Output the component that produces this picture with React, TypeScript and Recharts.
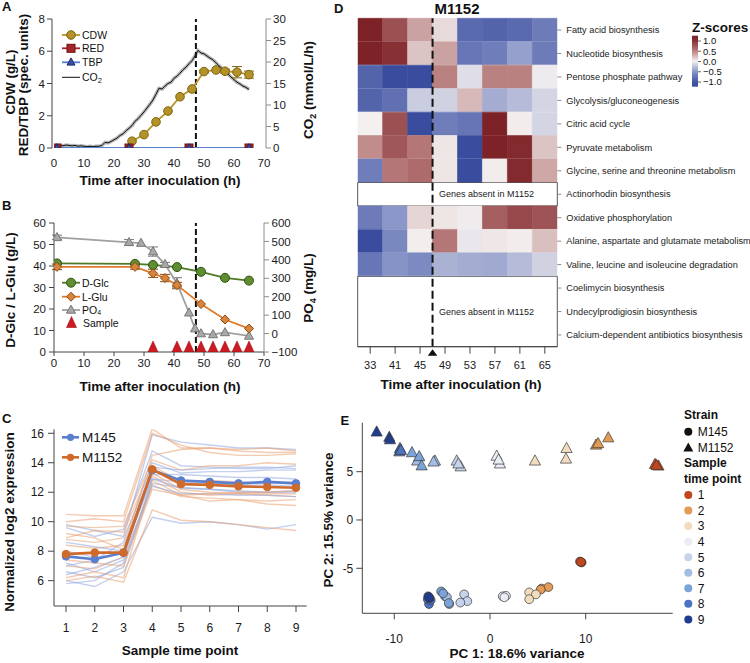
import React from 'react';
import {
  ComposedChart, LineChart, BarChart, ScatterChart, Line, Bar, Scatter, Cell,
  XAxis, YAxis, ErrorBar, ReferenceLine, ReferenceArea,
} from 'recharts';

const FONT = '"Liberation Sans", Arial, Helvetica, sans-serif';
const AXIS = '#444';
const AXIS_LIGHT = '#8c8c8c';

// ---------- A: biomass, pigments and CO2
const cdwHours = [26, 30, 34, 38, 42, 46, 50, 54, 57, 61, 65];
const cdwValues = [0.42, 0.83, 1.62, 2.29, 3.18, 3.66, 4.74, 4.84, 4.76, 4.7, 4.55];
const cdwErrors = [0, 0, 0, 0, 0, 0, 0.08, 0, 0.12, 0.35, 0.22];
const pigmentHours = [1, 25, 45, 65];
const redValues = [0, 0, 0, 0];
const tbpValues = [0, 0, 0, 0];
const co2Hours = [
  0, 1, 2, 3, 4, 5, 6, 7, 8, 9, 10, 11, 12, 13, 14, 15, 16, 17, 18, 19, 20, 21,
  22, 23, 24, 25, 26, 27, 28, 29, 30, 31, 32, 33, 34, 35, 36, 37, 38, 39, 40, 41, 42, 43,
  44, 45, 46, 47, 48, 49, 50, 51, 52, 53, 54, 55, 56, 57, 58, 59, 60, 61, 62, 63, 64, 65,
];
const co2Values = [
  0.2, 0.4, 0.6, 0.5, 0.7, 0.6, 0.5, 0.6, 0.4, 0.5, 0.4, 0.3, 0.4, 0.3, 0.4, 0.4, 0.6, 1.3, 1.2, 1.5, 1.9, 2.3,
  2.9, 3.3, 4.0, 4.6, 5.2, 6.2, 6.8, 7.6, 8.4, 9.3, 10.2, 11.2, 12.5, 13.9, 13.7, 14.4, 15.0, 15.3, 16.2, 16.7, 17.4, 18.2,
  18.8, 19.6, 20.3, 21.4, 22.7, 22.1, 21.9, 21.4, 20.9, 20.5, 19.8, 19.1, 18.5, 17.8, 17.2, 16.5, 15.9, 15.3, 14.9, 14.4, 14.1, 13.6,
];
const switchHour = 47.3;
const hourTicks = [0, 10, 20, 30, 40, 50, 60, 70];

// ---------- B: substrates
const glcHours = [1, 27, 33, 41, 49, 57, 65];
const glcValues = [41.2, 41.0, 40.5, 39.5, 37.3, 34.5, 33.2];
const gluHours = [1, 27, 33, 37, 41, 49, 57, 65];
const gluValues = [39.6, 39.6, 36.6, 34.4, 31.1, 22.3, 15.1, 10.9];
const gluErrors = [1.3, 1.1, 1.9, 1.7, 1.3, 0, 0, 0];
const po4Hours = [1, 25, 29, 33, 37, 41, 45, 47, 49, 53, 57, 65];
const po4Values = [522, 495, 491, 445, 376, 273, 113, 27, 0, -5, 6, -13];
const po4Errors = [12, 15, 0, 25, 10, 30, 0, 0, 0, 0, 0, 0];
const sampleHours = [33, 41, 45, 49, 53, 57, 61, 65];
const sampleMarks = [0, 0, 0, 0, 0, 0, 0, 0];

// ---------- C: gene expression profiles
const timePoints = [1, 2, 3, 4, 5, 6, 7, 8, 9];
const m145Mean = [7.65, 7.45, 7.9, 13.5, 12.8, 12.7, 12.6, 12.7, 12.6];
const m1152Mean = [7.8, 7.9, 7.9, 13.55, 12.55, 12.5, 12.4, 12.35, 12.3];
const m145Genes = [
  [9.8, 9.4, 9.0, 15.9, 15.4, 15.2, 15.0, 15.0, 14.9],
  [9.6, 9.0, 9.5, 14.8, 13.8, 13.7, 13.6, 13.6, 13.8],
  [8.0, 7.6, 7.8, 13.2, 13.2, 13.1, 13.0, 13.0, 12.9],
  [7.2, 6.6, 7.4, 12.6, 12.3, 12.2, 12.1, 12.0, 12.0],
  [6.6, 6.2, 6.9, 12.9, 12.7, 12.6, 12.5, 12.5, 12.4],
  [6.0, 5.6, 6.6, 10.3, 9.9, 10.0, 9.8, 9.5, 9.8],
  [5.8, 6.0, 7.2, 12.4, 11.9, 11.9, 11.8, 11.8, 11.7],
  [7.0, 7.4, 8.6, 14.0, 13.3, 13.4, 13.4, 13.5, 13.5],
  [8.6, 8.3, 8.0, 12.9, 12.3, 12.2, 12.0, 12.0, 12.1],
  [6.4, 6.9, 7.6, 13.7, 13.5, 13.6, 13.7, 13.7, 13.6],
];
const m1152Genes = [
  [10.5, 10.4, 10.4, 16.3, 15.0, 15.0, 14.8, 14.7, 14.7],
  [10.0, 10.2, 10.0, 16.0, 15.2, 14.7, 14.5, 14.5, 14.6],
  [9.7, 9.6, 9.7, 14.2, 13.5, 13.8, 13.8, 14.0, 13.9],
  [8.9, 9.4, 9.3, 13.8, 12.7, 12.8, 12.7, 12.6, 12.7],
  [8.4, 8.2, 8.4, 13.1, 12.0, 11.8, 11.9, 11.8, 11.7],
  [7.0, 6.8, 7.6, 12.5, 11.7, 11.6, 11.5, 11.4, 11.5],
  [6.2, 6.6, 6.2, 12.8, 11.8, 11.4, 11.5, 11.2, 11.1],
  [6.0, 6.3, 5.9, 10.8, 10.1, 10.0, 9.8, 9.6, 9.4],
  [8.8, 8.6, 8.9, 13.3, 12.2, 12.0, 11.9, 11.9, 11.9],
  [7.4, 7.2, 7.0, 12.2, 11.8, 11.9, 12.0, 12.0, 12.1],
  [9.2, 8.9, 8.1, 14.5, 14.9, 15.0, 14.9, 15.0, 14.8],
];

// ---------- D: pathway z-scores (M1152)
const pathways = [
  'Fatty acid biosynthesis',
  'Nucleotide biosynthesis',
  'Pentose phosphate pathway',
  'Glycolysis/gluconeogenesis',
  'Citric acid cycle',
  'Pyruvate metabolism',
  'Glycine, serine and threonine metabolism',
  'Actinorhodin biosynthesis',
  'Oxidative phosphorylation',
  'Alanine, aspartate and glutamate metabolism',
  'Valine, leucine and isoleucine degradation',
  'Coelimycin biosynthesis',
  'Undecylprodigiosin biosynthesis',
  'Calcium-dependent antibiotics biosynthesis',
];
const zScores: (number[] | null)[] = [
  [1.1, 0.8, 0.35, 0.1, -0.85, -0.9, -0.85, -0.7],
  [1.1, 1.0, 0.2, 0.35, -0.75, -0.68, -0.45, -0.7],
  [-0.9, -1.1, -1.1, 0.5, -0.1, 0.5, 0.5, -0.03],
  [-0.9, -0.8, -0.2, -0.17, 0.25, -0.38, -0.3, -0.15],
  [0.0, 0.8, -1.1, -0.68, -0.76, 1.1, 0.02, -0.15],
  [0.45, 0.75, 0.55, 0.05, -1.1, 1.1, 1.05, 0.2],
  [-0.68, 0.55, 0.62, 0.05, -1.1, 0.02, 1.05, 0.33],
  null,
  [-0.7, -0.5, 0.12, 0.05, -0.02, 0.7, 0.85, 0.78],
  [-1.1, -0.6, 0.01, 0.55, -0.05, 0.04, 0.02, 0.22],
  [-0.75, -0.52, -0.58, -0.35, -0.38, -0.4, -0.3, -0.17],
  null,
  null,
  null,
];
const zTicks = ['1.0', '0.5', '0.0', '\u22120.5', '\u22121.0'];

// ---------- E: PCA
const m145Points = [
  [9.58, -4.4, 1], [9.4, -4.3, 1], [9.5, -4.35, 1],
  [5.4, -7.1, 2], [6.1, -6.95, 2], [5.3, -7.2, 2],
  [4.1, -7.5, 3], [4.8, -7.7, 3], [4.1, -8.2, 3],
  [1.33, -7.9, 4], [1.67, -7.85, 4], [1.5, -8.0, 4],
  [-2.7, -7.7, 5], [-2.37, -8.4, 5], [-3.1, -8.55, 5],
  [-4.7, -7.9, 6], [-4.5, -8.0, 6], [-4.25, -8.7, 6],
  [-5.1, -7.4, 7], [-4.9, -7.6, 7], [-4.3, -8.6, 7],
  [-6.37, -8.7, 8], [-6.5, -8.2, 8], [-6.2, -8.3, 8],
  [-6.45, -7.9, 9], [-6.3, -8.1, 9], [-6.4, -8.0, 9],
];
const m1152Points = [
  [17.24, 5.75, 1], [17.6, 5.58, 1], [17.4, 5.65, 1],
  [11.08, 7.75, 2], [11.3, 7.9, 2], [12.36, 8.5, 2],
  [4.7, 6.1, 3], [8.0, 7.4, 3], [7.94, 6.3, 3],
  [0.7, 6.6, 4], [1.04, 5.8, 4], [0.9, 6.2, 4],
  [-3.48, 6.1, 5], [-3.06, 5.5, 5], [-3.3, 5.8, 5],
  [-7.6, 6.1, 6], [-5.75, 6.1, 6], [-5.9, 6.0, 6],
  [-8.15, 6.96, 7], [-7.39, 6.55, 7], [-7.14, 5.6, 7],
  [-9.4, 7.4, 8], [-9.48, 7.05, 8], [-9.3, 7.2, 8],
  [-11.84, 9.1, 9], [-10.52, 8.55, 9], [-10.45, 8.3, 9],
];
const timeColors = ['#c1461c', '#e39a55', '#f2dcc0', '#eaedf5', '#c6d3ea', '#a3bee2', '#7ba3d8', '#4b73c2', '#1f3c8f'];

// ---------- helpers
const toPoints = (hours: number[], values: number[], errors?: number[]) =>
  hours.map((t, i) => ({ t, v: values[i], e: errors ? errors[i] : 0 }));
const tick = (size: number) => ({ fontSize: size, fill: '#1a1a1a' });
const minus = (v: number) => String(v).replace('-', '\u2212');

const zStops: [number, number[]][] = [
  [-1.1, [58, 76, 157]],
  [-0.55, [128, 142, 196]],
  [0, [244, 240, 240]],
  [0.55, [180, 118, 118]],
  [1.1, [125, 34, 38]],
];
function zColor(z: number) {
  const v = Math.max(-1.1, Math.min(1.1, z));
  let k = 0;
  while (k < zStops.length - 2 && v > zStops[k + 1][0]) k++;
  const [a, ca] = zStops[k];
  const [b, cb] = zStops[k + 1];
  const f = (v - a) / (b - a);
  const c = ca.map((x, i) => Math.round(x + (cb[i] - x) * f));
  return `rgb(${c[0]},${c[1]},${c[2]})`;
}

const circleDot = (fill: string, stroke: string, r: number) => (p: any) =>
  p.cx == null ? <g key={`n${p.index}`} /> :
    <circle key={`c${p.index}`} cx={p.cx} cy={p.cy} r={r} fill={fill} stroke={stroke} strokeWidth={1} />;
const squareDot = (fill: string, stroke: string, s: number) => (p: any) =>
  p.cx == null ? <g key={`n${p.index}`} /> :
    <rect key={`s${p.index}`} x={p.cx - s / 2} y={p.cy - s / 2} width={s} height={s} fill={fill} stroke={stroke} strokeWidth={1} />;
const triDot = (fill: string, stroke: string, s: number) => (p: any) => {
  if (p.cx == null) return <g key={`n${p.index}`} />;
  const h = s * 0.9;
  return <polygon key={`t${p.index}`} points={`${p.cx},${p.cy - h * 0.6} ${p.cx - s / 2},${p.cy + h * 0.4} ${p.cx + s / 2},${p.cy + h * 0.4}`} fill={fill} stroke={stroke} strokeWidth={1} />;
};
const diamondDot = (fill: string, stroke: string, s: number) => (p: any) =>
  p.cx == null ? <g key={`n${p.index}`} /> :
    <polygon key={`d${p.index}`} points={`${p.cx},${p.cy - s / 2} ${p.cx + s / 2},${p.cy} ${p.cx},${p.cy + s / 2} ${p.cx - s / 2},${p.cy}`} fill={fill} stroke={stroke} strokeWidth={1} />;
const sampleDot = (p: any) =>
  p.cx == null ? <g key={`n${p.index}`} /> :
    <polygon key={`m${p.index}`} points={`${p.cx},${p.cy - 11} ${p.cx - 5},${p.cy} ${p.cx + 5},${p.cy}`} fill="#cc1b22" stroke="#a01015" strokeWidth={0.6} />;

// ---------- panels
function PanelA() {
  const cdw = toPoints(cdwHours, cdwValues, cdwErrors);
  const red = toPoints(pigmentHours, redValues);
  const tbp = toPoints(pigmentHours, tbpValues);
  const co2 = toPoints(co2Hours, co2Values);
  return (
    <ComposedChart width={320} height={172} margin={{ top: 19, right: 0, bottom: 0, left: 0 }}>
      <XAxis type="number" dataKey="t" domain={[0, 70]} ticks={hourTicks} padding={{ left: 2, right: 2 }} allowDataOverflow
        axisLine={false} tickLine={false} tickSize={5} tickMargin={6} height={24} tick={tick(11.5)} />
      <YAxis yAxisId="l" type="number" domain={[0, 8]} ticks={[0, 1, 2, 3, 4, 5, 6, 7, 8]} width={52} stroke={AXIS}
        tickSize={5} tickMargin={2} tick={tick(11.5)} allowDataOverflow />
      <YAxis yAxisId="r" orientation="right" type="number" domain={[0, 30]} ticks={[0, 5, 10, 15, 20, 25, 30]} width={54}
        stroke={AXIS_LIGHT} tickSize={5} tickMargin={2} tick={tick(11.5)} allowDataOverflow />
      <Line yAxisId="r" data={co2} dataKey="v" stroke="#b5b5b5" strokeWidth={3.5} dot={false} isAnimationActive={false} />
      <Line yAxisId="r" data={co2} dataKey="v" stroke="#111" strokeWidth={1} dot={false} isAnimationActive={false} />
      <ReferenceLine yAxisId="l" x={switchHour} stroke="#111" strokeWidth={2} strokeDasharray="6 3" />
      <Line yAxisId="l" data={cdw} dataKey="v" stroke="#b8952a" strokeWidth={1.8} dot={circleDot('#b39228', '#7d6410', 4.3)} isAnimationActive={false}>
        <ErrorBar dataKey="e" width={5} stroke="#7d6410" strokeWidth={1} direction="y" />
      </Line>
      <Line yAxisId="l" data={red} dataKey="v" stroke="none" dot={squareDot('#a3262a', '#6e1010', 8)} isAnimationActive={false} />
      <Line yAxisId="l" data={tbp} dataKey="v" stroke="#5a7fd0" strokeWidth={1.8} dot={triDot('#3a4fa0', '#1c2a6e', 8)} isAnimationActive={false} />
    </ComposedChart>
  );
}

function PanelB() {
  const glc = toPoints(glcHours, glcValues);
  const glu = toPoints(gluHours, gluValues, gluErrors);
  const po4 = toPoints(po4Hours, po4Values, po4Errors);
  const samples = toPoints(sampleHours, sampleMarks);
  return (
    <ComposedChart width={320} height={175} margin={{ top: 23, right: 0, bottom: 0, left: 0 }}>
      <XAxis type="number" dataKey="t" domain={[0, 70]} ticks={hourTicks} allowDataOverflow stroke={AXIS}
        tickSize={4} tickMargin={3} height={23} tick={tick(11.5)} />
      <YAxis yAxisId="l" type="number" domain={[0, 60]} ticks={[0, 10, 20, 30, 40, 50, 60]} width={54} stroke={AXIS}
        tickSize={5} tickMargin={3} tick={tick(11.5)} allowDataOverflow />
      <YAxis yAxisId="r" orientation="right" type="number" domain={[-100, 600]} ticks={[-100, 0, 100, 200, 300, 400, 500, 600]}
        width={56} stroke={AXIS_LIGHT} tickSize={5} tickMargin={2.5} tick={tick(11.5)} tickFormatter={minus} allowDataOverflow />
      <ReferenceLine yAxisId="l" x={switchHour} stroke="#111" strokeWidth={2} strokeDasharray="6 3" />
      <Line yAxisId="l" data={glc} dataKey="v" stroke="#4e7a28" strokeWidth={1.8} dot={circleDot('#5e8e2f', '#2f5412', 4.5)} isAnimationActive={false} />
      <Line yAxisId="r" data={po4} dataKey="v" stroke="#a0a0a0" strokeWidth={1.8} dot={triDot('#a8a8a8', '#777', 9)} isAnimationActive={false}>
        <ErrorBar dataKey="e" width={5} stroke="#777" strokeWidth={1} direction="y" />
      </Line>
      <Line yAxisId="l" data={glu} dataKey="v" stroke="#e07b2c" strokeWidth={1.8} dot={diamondDot('#d9843c', '#8c4a12', 9)} isAnimationActive={false}>
        <ErrorBar dataKey="e" width={5} stroke="#8c4a12" strokeWidth={1} direction="y" />
      </Line>
      <Line yAxisId="l" data={samples} dataKey="v" stroke="none" dot={sampleDot} isAnimationActive={false} />
    </ComposedChart>
  );
}

function PanelC() {
  const rows = timePoints.map((t, i) => {
    const row: Record<string, number> = { t, m145: m145Mean[i], m1152: m1152Mean[i] };
    m145Genes.forEach((g, k) => { row[`b${k}`] = g[i]; });
    m1152Genes.forEach((g, k) => { row[`o${k}`] = g[i]; });
    return row;
  });
  const thin: React.ReactNode[] = [];
  const n = Math.max(m145Genes.length, m1152Genes.length);
  for (let k = 0; k < n; k++) {
    if (k < m1152Genes.length) thin.push(<Line key={`o${k}`} dataKey={`o${k}`} stroke="#e9a071" strokeOpacity={0.55} strokeWidth={1.4} dot={false} isAnimationActive={false} />);
    if (k < m145Genes.length) thin.push(<Line key={`b${k}`} dataKey={`b${k}`} stroke="#8fa8e0" strokeOpacity={0.55} strokeWidth={1.4} dot={false} isAnimationActive={false} />);
  }
  return (
    <LineChart width={320} height={218} data={rows} margin={{ top: 9.3, right: 13.3, bottom: 0, left: 0 }}>
      <XAxis type="number" dataKey="t" domain={[1, 9]} ticks={timePoints} padding={{ left: 12, right: 10.7 }} stroke={AXIS}
        tickSize={6} tickMargin={11} height={32} tick={tick(12)} interval={0} />
      <YAxis type="number" domain={[4.28, 16.27]} ticks={[6, 8, 10, 12, 14, 16]} width={54} stroke={AXIS}
        tickSize={6} tickMargin={4} tick={tick(12)} allowDataOverflow />
      {thin}
      <Line dataKey="m145" stroke="#5b7fcf" strokeWidth={2.6} dot={circleDot('#5b7fcf', '#5b7fcf', 3.8)} isAnimationActive={false} />
      <Line dataKey="m1152" stroke="#cf6a2a" strokeWidth={2.6} dot={circleDot('#cf6a2a', '#cf6a2a', 3.8)} isAnimationActive={false} />
    </LineChart>
  );
}

const absentLabel = (props: any) => {
  const vb = props.viewBox;
  if (!vb) return null;
  return (
    <text x={vb.x + vb.width * 3 / 8 + 6.5} y={vb.y + vb.height / 2} dy="0.35em" fontSize={9} fill="#1a1a1a">
      Genes absent in M1152
    </text>
  );
};
const switchMarker = (props: any) => {
  const vb = props.viewBox;
  if (!vb) return null;
  const x = vb.x;
  const y = vb.y + vb.height;
  return <polygon points={`${x},${y + 2.5} ${x - 4.8},${y + 9} ${x + 4.8},${y + 9}`} fill="#111" />;
};
const pathwayTick = (p: any) => (
  <text x={p.x} y={p.y} dy="0.35em" textAnchor="start" fontSize={9.2} fill="#1a1a1a">{p.payload.value}</text>
);

function PanelD() {
  const rows = pathways.map((p, i) => {
    const row: Record<string, any> = { pathway: p };
    sampleHours.forEach((_, j) => { row[`c${j}`] = zScores[i] ? 1 : 0; });
    return row;
  });
  const colCenters = sampleHours.map((_, j) => j + 0.5);
  return (
    <BarChart layout="vertical" width={430} height={378} data={rows} margin={{ top: 18.3, right: 0, bottom: 0, left: 37.7 }}
      barCategoryGap={0} barGap={0}>
      <XAxis type="number" domain={[0, 8]} ticks={colCenters} tickFormatter={(v: number) => String(sampleHours[Math.floor(v)])}
        height={31.3} stroke={AXIS} tickSize={7} tickMargin={7} tick={tick(11)} interval={0} allowDataOverflow />
      <YAxis type="category" dataKey="pathway" orientation="right" width={192.7} axisLine={false} stroke={AXIS_LIGHT}
        tickSize={4} tickMargin={5} tick={pathwayTick} interval={0} />
      {sampleHours.map((h, j) => (
        <Bar key={h} dataKey={`c${j}`} stackId="z" isAnimationActive={false}>
          {rows.map((_, i) => {
            const z = zScores[i];
            const c = z ? zColor(z[j]) : 'none';
            return <Cell key={i} fill={c} stroke={c} strokeWidth={0.6} />;
          })}
        </Bar>
      ))}
      <ReferenceArea y1={pathways[7]} y2={pathways[7]} x1={0} x2={8} fill="#fff" fillOpacity={1} stroke="#555" strokeWidth={1} label={absentLabel} />
      <ReferenceArea y1={pathways[11]} y2={pathways[13]} x1={0} x2={8} fill="#fff" fillOpacity={1} stroke="#555" strokeWidth={1} label={absentLabel} />
      <ReferenceLine x={3} stroke="#111" strokeWidth={2} strokeDasharray="8 4" label={switchMarker} />
    </BarChart>
  );
}

const pcaShape = (kind: 'circle' | 'tri') => (p: any) => {
  if (p.cx == null) return <g />;
  const fill = timeColors[p.payload.tp - 1];
  if (kind === 'circle') return <circle cx={p.cx} cy={p.cy} r={4.4} fill={fill} stroke="#3a3a3a" strokeWidth={0.7} />;
  return <polygon points={`${p.cx},${p.cy - 6.2} ${p.cx - 5.6},${p.cy + 4} ${p.cx + 5.6},${p.cy + 4}`} fill={fill} stroke="#3a3a3a" strokeWidth={0.7} />;
};

function PanelE() {
  const circles = m145Points.map(([x, y, tp]) => ({ x, y, tp }));
  const tris = m1152Points.map(([x, y, tp]) => ({ x, y, tp }));
  return (
    <ScatterChart width={360} height={240} margin={{ top: 12.7, right: 7.3, bottom: 0, left: 0 }}>
      <XAxis type="number" dataKey="x" domain={[-13.34, 19.09]} ticks={[-10, 0, 10]} stroke={AXIS} tickSize={6}
        tickMargin={15} height={36.7} tick={tick(12)} allowDataOverflow />
      <YAxis type="number" dataKey="y" domain={[-9.66, 10.07]} ticks={[-5, 0, 5]} width={42.3} stroke={AXIS} tickSize={6}
        tickMargin={3} tick={tick(12)} allowDataOverflow />
      <Scatter data={circles} shape={pcaShape('circle')} isAnimationActive={false} />
      <Scatter data={tris} shape={pcaShape('tri')} isAnimationActive={false} />
    </ScatterChart>
  );
}

// ---------- titles, legends, colour bar
function Annotations() {
  const t = (size: number, bold = false) => ({ fontSize: size, fontWeight: bold ? 700 : 400, fill: '#111' });
  const vtitle = (cx: number, cy: number, content: React.ReactNode, size = 13.5) => (
    <text x={cx} y={cy} dy="0.35em" textAnchor="middle" transform={`rotate(-90 ${cx} ${cy})`} {...t(size, true)}>{content}</text>
  );
  const barStops = Array.from({ length: 13 }, (_, k) => 1.24 - k * (2.48 / 12));
  return (
    <svg width={750} height={663} style={{ position: 'absolute', left: 0, top: 0, pointerEvents: 'none' }}>
      <defs>
        <linearGradient id="zbar" x1="0" y1="0" x2="0" y2="1">
          {barStops.map((v, k) => <stop key={k} offset={`${(k / 12) * 100}%`} stopColor={zColor(v)} />)}
        </linearGradient>
      </defs>
      {/* panel letters */}
      <text x={2} y={10.7} {...t(13, true)}>A</text>
      <text x={2} y={210} {...t(13, true)}>B</text>
      <text x={2} y={423.3} {...t(13, true)}>C</text>
      <text x={334} y={12.7} {...t(13, true)}>D</text>
      <text x={340.5} y={425} {...t(13, true)}>E</text>
      <text x={457} y={13.5} textAnchor="middle" {...t(15, true)}>M1152</text>

      {/* axis titles */}
      <text x={160} y={185} textAnchor="middle" {...t(13.5, true)}>Time after inoculation (h)</text>
      <text x={160} y={391} textAnchor="middle" {...t(13.5, true)}>Time after inoculation (h)</text>
      <text x={461} y={389} textAnchor="middle" {...t(13.5, true)}>Time after inoculation (h)</text>
      <text x={180} y={655} textAnchor="middle" {...t(13.5, true)}>Sample time point</text>
      <text x={517} y={658} textAnchor="middle" {...t(13.5, true)}>PC 1: 18.6% variance</text>
      {vtitle(10, 82, 'CDW (g/L)')}
      {vtitle(23, 85, 'RED/TBP (spec. units)')}
      {vtitle(308, 90, <>CO<tspan dy={3} fontSize={9}>2</tspan><tspan dy={-3}> (mmol/L/h)</tspan></>)}
      {vtitle(10, 290, 'D-Glc / L-Glu (g/L)')}
      {vtitle(308, 288, <>PO<tspan dy={3} fontSize={9}>4</tspan><tspan dy={-3}> (mg/L)</tspan></>)}
      {vtitle(9, 522, 'Normalized log2 expression')}
      {vtitle(328, 520, 'PC 2: 15.5% variance')}

      {/* legend A */}
      <line x1={62} x2={80} y1={35} y2={35} stroke="#b8952a" strokeWidth={1.8} />
      <circle cx={71} cy={35} r={4.3} fill="#b39228" stroke="#7d6410" />
      <text x={82} y={38.8} {...t(10.5)}>CDW</text>
      <line x1={62} x2={80} y1={48.3} y2={48.3} stroke="#a3262a" strokeWidth={1.8} />
      <rect x={67} y={44.3} width={8} height={8} fill="#a3262a" stroke="#6e1010" />
      <text x={82} y={52.1} {...t(10.5)}>RED</text>
      <line x1={62} x2={80} y1={62.3} y2={62.3} stroke="#5a7fd0" strokeWidth={1.8} />
      <polygon points="71,57.9 67,65.1 75,65.1" fill="#3a4fa0" stroke="#1c2a6e" />
      <text x={82} y={66.1} {...t(10.5)}>TBP</text>
      <line x1={62} x2={80} y1={77.3} y2={77.3} stroke="#111" strokeWidth={1} />
      <text x={82} y={81.1} {...t(10.5)}>CO<tspan dy={2} fontSize={7.5}>2</tspan></text>

      {/* legend B */}
      <line x1={62} x2={80} y1={282.7} y2={282.7} stroke="#4e7a28" strokeWidth={1.8} />
      <circle cx={71} cy={282.7} r={4.5} fill="#5e8e2f" stroke="#2f5412" />
      <text x={82} y={286.5} {...t(10.5)}>D-Glc</text>
      <line x1={62} x2={80} y1={296.7} y2={296.7} stroke="#e07b2c" strokeWidth={1.8} />
      <polygon points="71,292.2 75.5,296.7 71,301.2 66.5,296.7" fill="#d9843c" stroke="#8c4a12" />
      <text x={82} y={300.5} {...t(10.5)}>L-Glu</text>
      <line x1={62} x2={80} y1={310} y2={310} stroke="#a0a0a0" strokeWidth={1.8} />
      <polygon points="71,305.1 66.5,313.2 75.5,313.2" fill="#a8a8a8" stroke="#777" />
      <text x={82} y={313.6} {...t(10.5)}>PO<tspan dy={1.6} fontSize={7}>4</tspan></text>
      <polygon points="71.5,316.5 66.5,327.5 76.5,327.5" fill="#cc1b22" stroke="#a01015" strokeWidth={0.6} />
      <text x={83} y={326.5} {...t(10.5)}>Sample</text>

      {/* legend C */}
      <line x1={62} x2={79} y1={437.3} y2={437.3} stroke="#5b7fcf" strokeWidth={2.6} />
      <circle cx={70.5} cy={437.3} r={3.6} fill="#5b7fcf" />
      <text x={82} y={442.2} {...t(13.5)}>M145</text>
      <line x1={62} x2={79} y1={457.3} y2={457.3} stroke="#cf6a2a" strokeWidth={2.6} />
      <circle cx={70.5} cy={457.3} r={3.6} fill="#cf6a2a" />
      <text x={82} y={462.2} {...t(13.5)}>M1152</text>

      {/* colour bar D */}
      <text x={692} y={32} {...t(13.5, true)}>Z-scores</text>
      <rect x={692} y={35.7} width={6} height={51} fill="url(#zbar)" />
      {zTicks.map((label, i) => {
        const y = 41 + i * 10.25;
        return (
          <g key={label}>
            <line x1={698} x2={701} y1={y} y2={y} stroke="#666" />
            <text x={703} y={y + 3.3} {...t(9.5)}>{label}</text>
          </g>
        );
      })}

      {/* legend E */}
      <text x={684} y={419.3} {...t(12, true)}>Strain</text>
      <circle cx={688.3} cy={431.7} r={4} fill="#111" />
      <text x={697.7} y={436} {...t(12)}>M145</text>
      <polygon points="688.3,442.5 683.3,451.5 693.3,451.5" fill="#111" />
      <text x={697.7} y={451.6} {...t(12)}>M1152</text>
      <text x={684} y={467} {...t(12, true)}>Sample</text>
      <text x={684} y={483.3} {...t(12, true)}>time point</text>
      {timeColors.map((c, i) => {
        const y = 495 + i * 15.55;
        return (
          <g key={c}>
            <circle cx={688.3} cy={y} r={4} fill={c} />
            <text x={697.7} y={y + 4.3} {...t(12)}>{i + 1}</text>
          </g>
        );
      })}
    </svg>
  );
}

export default function App() {
  return (
    <div style={{ position: 'absolute', left: 0, top: 0, width: 750, height: 663, background: '#fff', fontFamily: FONT, overflow: 'hidden' }}>
      <div style={{ position: 'absolute', left: 0, top: 0 }}><PanelA /></div>
      <div style={{ position: 'absolute', left: 0, top: 200 }}><PanelB /></div>
      <div style={{ position: 'absolute', left: 0, top: 420 }}><PanelC /></div>
      <div style={{ position: 'absolute', left: 320, top: 0 }}><PanelD /></div>
      <div style={{ position: 'absolute', left: 320, top: 410 }}><PanelE /></div>
      <Annotations />
    </div>
  );
}
